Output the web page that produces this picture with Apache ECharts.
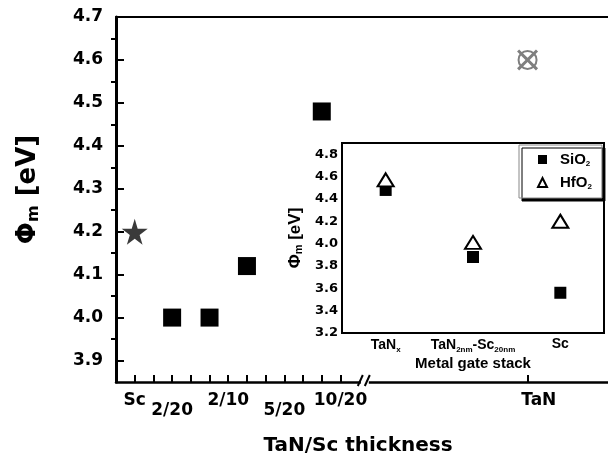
<!DOCTYPE html>
<html>
<head>
<meta charset="utf-8">
<script src="https://cdn.jsdelivr.net/npm/echarts@6/dist/echarts.min.js"></script>
<style>
html, body { margin: 0; padding: 0; background: #fff; }
#chart { width: 608px; height: 462px; }
</style>
</head>
<body>
<div id="chart"></div>
<script>
// ---- main panel data (x = position along the thickness axis) ----
const scX = [1];
const scY = [4.2];
const stackX = [3, 5, 7, 11];
const stackY = [4.0, 4.0, 4.12, 4.48];
const tanX = [22];
const tanY = [4.6];

const mainYTicks = [3.9, 4.0, 4.1, 4.2, 4.3, 4.4, 4.5, 4.6, 4.7];
const mainYMinor = [3.95, 4.05, 4.15, 4.25, 4.35, 4.45, 4.55, 4.65];
const xTickPos = [1, 2, 3, 4, 5, 6, 7, 8, 9, 10, 11, 12, 22];
const xLabelPos = [1, 3, 6, 9, 12, 22.6];
const xLabels = ['Sc', '2/20', '2/10', '5/20', '10/20', 'TaN'];

// ---- inset data ----
const insetCats = ['TaNx', 'TaN2nm-Sc20nm', 'Sc'];
const sio2 = [4.48, 3.88, 3.56];
const hfo2 = [4.57, 4.01, 4.20];
const insetYTicks = [3.2, 3.4, 3.6, 3.8, 4.0, 4.2, 4.4, 4.6, 4.8];
const insetYMinor = [3.3, 3.5, 3.7, 3.9, 4.1, 4.3, 4.5, 4.7];

const FONT = "'Liberation Sans', Arial, sans-serif";
const WIDE = "'DejaVu Sans', sans-serif";   // wide digits like the scan
const STAR = 'path://M50,0 L61,35 L98,35 L68,57 L79,91 L50,70 L21,91 L32,57 L2,35 L39,35 Z';
const CROSS = 'path://M2,0 L10,8 L18,0 L20,2 L12,10 L20,18 L18,20 L10,12 L2,20 L0,18 L8,10 L0,2 Z';

const subRich = {
  s: { fontFamily: FONT, fontWeight: 'bold', fontSize: 8, verticalAlign: 'bottom', padding: [9, 0, 0, 0] }
};

const chart = echarts.init(document.getElementById('chart'));

const option = {
  animation: false,
  backgroundColor: '#fff',
  grid: [
    { left: 116, top: 17, right: 0, bottom: 80 },
    { left: 342, top: 143, right: 4, bottom: 129, show: true, borderColor: '#000', borderWidth: 2, backgroundColor: '#fff', z: 5 }
  ],
  xAxis: [
    {
      type: 'value', gridIndex: 0, min: 0, max: 26.3,
      name: 'TaN/Sc thickness', nameLocation: 'middle', nameGap: 54,
      nameTextStyle: { fontFamily: WIDE, fontWeight: 'bold', fontSize: 20, color: '#000', padding: [0, 0, 0, -8] },
      axisLine: { lineStyle: { color: '#000', width: 2.5 } },
      axisTick: { inside: true, length: 7, lineStyle: { color: '#000', width: 2 }, customValues: xTickPos },
      axisLabel: {
        customValues: xLabelPos, margin: 10,
        fontFamily: WIDE, fontWeight: 'bold', fontSize: 17, color: '#000',
        formatter: function (v) {
          const i = xLabelPos.indexOf(v);
          if (i < 0) return '';
          return (i === 1 || i === 3) ? '{lo|' + xLabels[i] + '}' : xLabels[i];
        },
        rich: { lo: { fontFamily: WIDE, fontWeight: 'bold', fontSize: 17, color: '#000', padding: [10, 0, 0, 0] } }
      },
      splitLine: { show: false }
    },
    {
      type: 'value', gridIndex: 0, position: 'top', min: 0, max: 26.3,
      axisLine: { lineStyle: { color: '#000', width: 2 } },
      axisTick: { show: false }, axisLabel: { show: false }, splitLine: { show: false }
    },
    {
      type: 'category', gridIndex: 1, data: insetCats,
      name: 'Metal gate stack', nameLocation: 'middle', nameGap: 23,
      nameTextStyle: { fontFamily: FONT, fontWeight: 'bold', fontSize: 15, color: '#000' },
      axisLine: { lineStyle: { color: '#000', width: 2 } },
      axisTick: { inside: true, alignWithLabel: true, length: 5, lineStyle: { color: '#000', width: 1.5 } },
      axisLabel: {
        interval: 0, margin: 4, fontFamily: FONT, fontWeight: 'bold', fontSize: 14, color: '#000',
        formatter: function (v) {
          if (v === 'TaNx') return 'TaN{s|x}';
          if (v === 'TaN2nm-Sc20nm') return 'TaN{s|2nm}-Sc{s|20nm}';
          return v;
        },
        rich: subRich
      },
      splitLine: { show: false }
    }
  ],
  yAxis: [
    {
      type: 'value', gridIndex: 0, min: 3.85, max: 4.7,
      name: 'Φ{s|m} [eV]', nameLocation: 'middle', nameGap: 74, nameRotate: 90,
      nameTextStyle: {
        fontFamily: WIDE, fontWeight: 'bold', fontSize: 26, color: '#000', padding: [0, 0, 0, 20],
        rich: { s: { fontFamily: WIDE, fontWeight: 'bold', fontSize: 16, verticalAlign: 'bottom', padding: [12, 0, 0, 0] } }
      },
      axisLine: { lineStyle: { color: '#000', width: 3 } },
      axisTick: { inside: true, length: 8, lineStyle: { color: '#000', width: 2 }, customValues: mainYTicks },
      axisLabel: {
        customValues: mainYTicks, margin: 13,
        fontFamily: WIDE, fontWeight: 'bold', fontSize: 17, color: '#000',
        formatter: function (v) { return v.toFixed(1); }
      },
      splitLine: { show: false }
    },
    {
      type: 'value', gridIndex: 0, min: 3.85, max: 4.7,
      axisLine: { show: false },
      axisTick: { inside: true, length: 5, lineStyle: { color: '#000', width: 2 }, customValues: mainYMinor },
      axisLabel: { show: false }, splitLine: { show: false }
    },
    {
      type: 'value', gridIndex: 1, min: 3.2, max: 4.9,
      name: 'Φ{s|m} [eV]', nameLocation: 'middle', nameGap: 38, nameRotate: 90,
      nameTextStyle: {
        fontFamily: FONT, fontWeight: 'bold', fontSize: 17, color: '#000',
        rich: { s: { fontFamily: FONT, fontWeight: 'bold', fontSize: 11, verticalAlign: 'bottom', padding: [7, 0, 0, 0] } }
      },
      axisLine: { lineStyle: { color: '#000', width: 2 } },
      axisTick: { inside: true, length: 5, lineStyle: { color: '#000', width: 1.5 }, customValues: insetYTicks },
      axisLabel: {
        customValues: insetYTicks, margin: 4,
        fontFamily: WIDE, fontWeight: 'bold', fontSize: 13, color: '#000',
        formatter: function (v) { return v.toFixed(1); }
      },
      splitLine: { show: false }
    },
    {
      type: 'value', gridIndex: 1, min: 3.2, max: 4.9,
      axisLine: { show: false },
      axisTick: { inside: true, length: 3, lineStyle: { color: '#000', width: 1.5 }, customValues: insetYMinor },
      axisLabel: { show: false }, splitLine: { show: false }
    }
  ],
  legend: {
    data: ['SiO2', 'HfO2'], z: 20,
    orient: 'vertical', left: 519, top: 145,
    padding: [7, 10, 7, 18], itemGap: 7,
    itemWidth: 9, itemHeight: 9,
    backgroundColor: '#fff', borderColor: '#888', borderWidth: 1,
    shadowColor: '#000', shadowBlur: 0, shadowOffsetX: 3, shadowOffsetY: 3,
    formatter: function (n) { return n.replace('2', '{s|2}'); },
    textStyle: { fontFamily: FONT, fontWeight: 'bold', fontSize: 15, color: '#000', padding: [0, 0, 0, 8], rich: subRich }
  },
  series: [
    {
      name: 'Sc', type: 'scatter', xAxisIndex: 0, yAxisIndex: 0,
      data: scX.map((x, i) => [x, scY[i]]),
      symbol: STAR, symbolSize: 26, itemStyle: { color: '#3a3a3a', opacity: 1 }
    },
    {
      name: 'TaN/Sc', type: 'scatter', xAxisIndex: 0, yAxisIndex: 0,
      data: stackX.map((x, i) => [x, stackY[i]]),
      symbol: 'rect', symbolSize: 18, itemStyle: { color: '#000', opacity: 1 }
    },
    {
      name: 'TaN ring', type: 'scatter', xAxisIndex: 0, yAxisIndex: 0,
      data: tanX.map((x, i) => [x, tanY[i]]),
      symbol: 'emptyCircle', symbolSize: 18,
      itemStyle: { color: '#7f7f7f', borderColor: '#7f7f7f', borderWidth: 3, opacity: 1 }
    },
    {
      name: 'TaN cross', type: 'scatter', xAxisIndex: 0, yAxisIndex: 0,
      data: tanX.map((x, i) => [x, tanY[i]]),
      symbol: CROSS, symbolSize: 21, itemStyle: { color: '#7f7f7f', opacity: 1 }
    },
    {
      name: 'SiO2', type: 'scatter', xAxisIndex: 2, yAxisIndex: 2, z: 6,
      data: sio2, symbol: 'rect', symbolSize: 12, itemStyle: { color: '#000', opacity: 1 }
    },
    {
      name: 'HfO2', type: 'scatter', xAxisIndex: 2, yAxisIndex: 2, z: 7,
      data: hfo2, symbol: 'emptyTriangle', symbolSize: [16, 13],
      itemStyle: { color: '#000', borderColor: '#000', borderWidth: 2.5, opacity: 1 }
    }
  ]
};

chart.setOption(option);

// axis break marks on the main x axis
const bx = chart.convertToPixel({ xAxisIndex: 0 }, 13.3);
const by = chart.convertToPixel({ yAxisIndex: 0 }, 3.85);
chart.setOption({
  graphic: [
    { type: 'rect', shape: { x: bx - 4, y: by - 3, width: 8, height: 6 }, style: { fill: '#fff' }, z: 20 },
    { type: 'line', shape: { x1: bx - 7, y1: by + 4, x2: bx - 2, y2: by - 7 }, style: { stroke: '#000', lineWidth: 2 }, z: 21 },
    { type: 'line', shape: { x1: bx, y1: by + 4, x2: bx + 5, y2: by - 7 }, style: { stroke: '#000', lineWidth: 2 }, z: 21 }
  ]
});
</script>
</body>
</html>
